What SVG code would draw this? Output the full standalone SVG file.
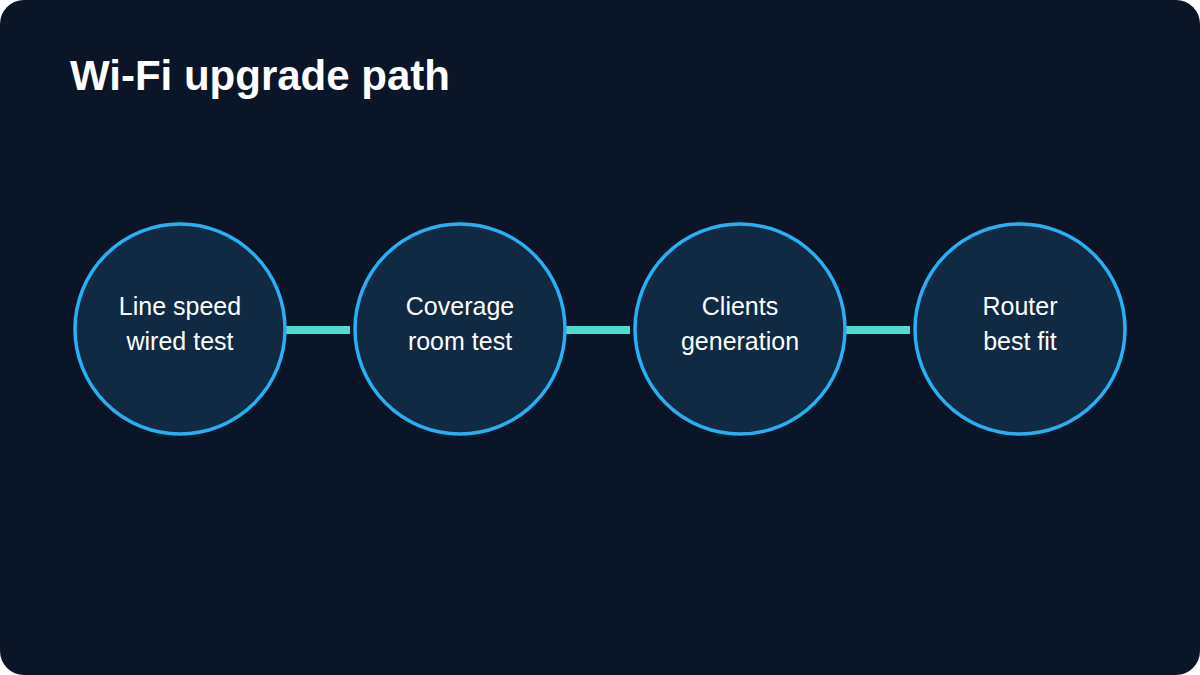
<svg xmlns="http://www.w3.org/2000/svg" width="1200" height="675" viewBox="0 0 1200 675">
<style>
.title{font-family:"Liberation Sans",Arial,sans-serif;font-weight:bold;font-size:42px;fill:#ffffff}
.node circle{fill:#0f2a42;stroke:#29b0f2;stroke-width:3.5}
.node text{font-family:"Liberation Sans",Arial,sans-serif;font-size:25px;fill:#ffffff;text-anchor:middle}
.conn line{stroke:#4fdcce;stroke-width:8}
</style>
<rect x="0" y="0" width="1200" height="675" rx="24" fill="#0a1628"/>
<text class="title" x="70" y="90">Wi-Fi upgrade path</text>
<g class="conn" id="connectors">
<line x1="286" y1="330" x2="350" y2="330"/>
<line x1="566" y1="330" x2="630" y2="330"/>
<line x1="846" y1="330" x2="910" y2="330"/>
</g>
<g class="node" id="n1"><circle cx="180" cy="329" r="105"/><text x="180" y="315">Line speed</text><text x="180" y="350">wired test</text></g>
<g class="node" id="n2"><circle cx="460" cy="329" r="105"/><text x="460" y="315">Coverage</text><text x="460" y="350">room test</text></g>
<g class="node" id="n3"><circle cx="740" cy="329" r="105"/><text x="740" y="315">Clients</text><text x="740" y="350">generation</text></g>
<g class="node" id="n4"><circle cx="1020" cy="329" r="105"/><text x="1020" y="315">Router</text><text x="1020" y="350">best fit</text></g>
</svg>
